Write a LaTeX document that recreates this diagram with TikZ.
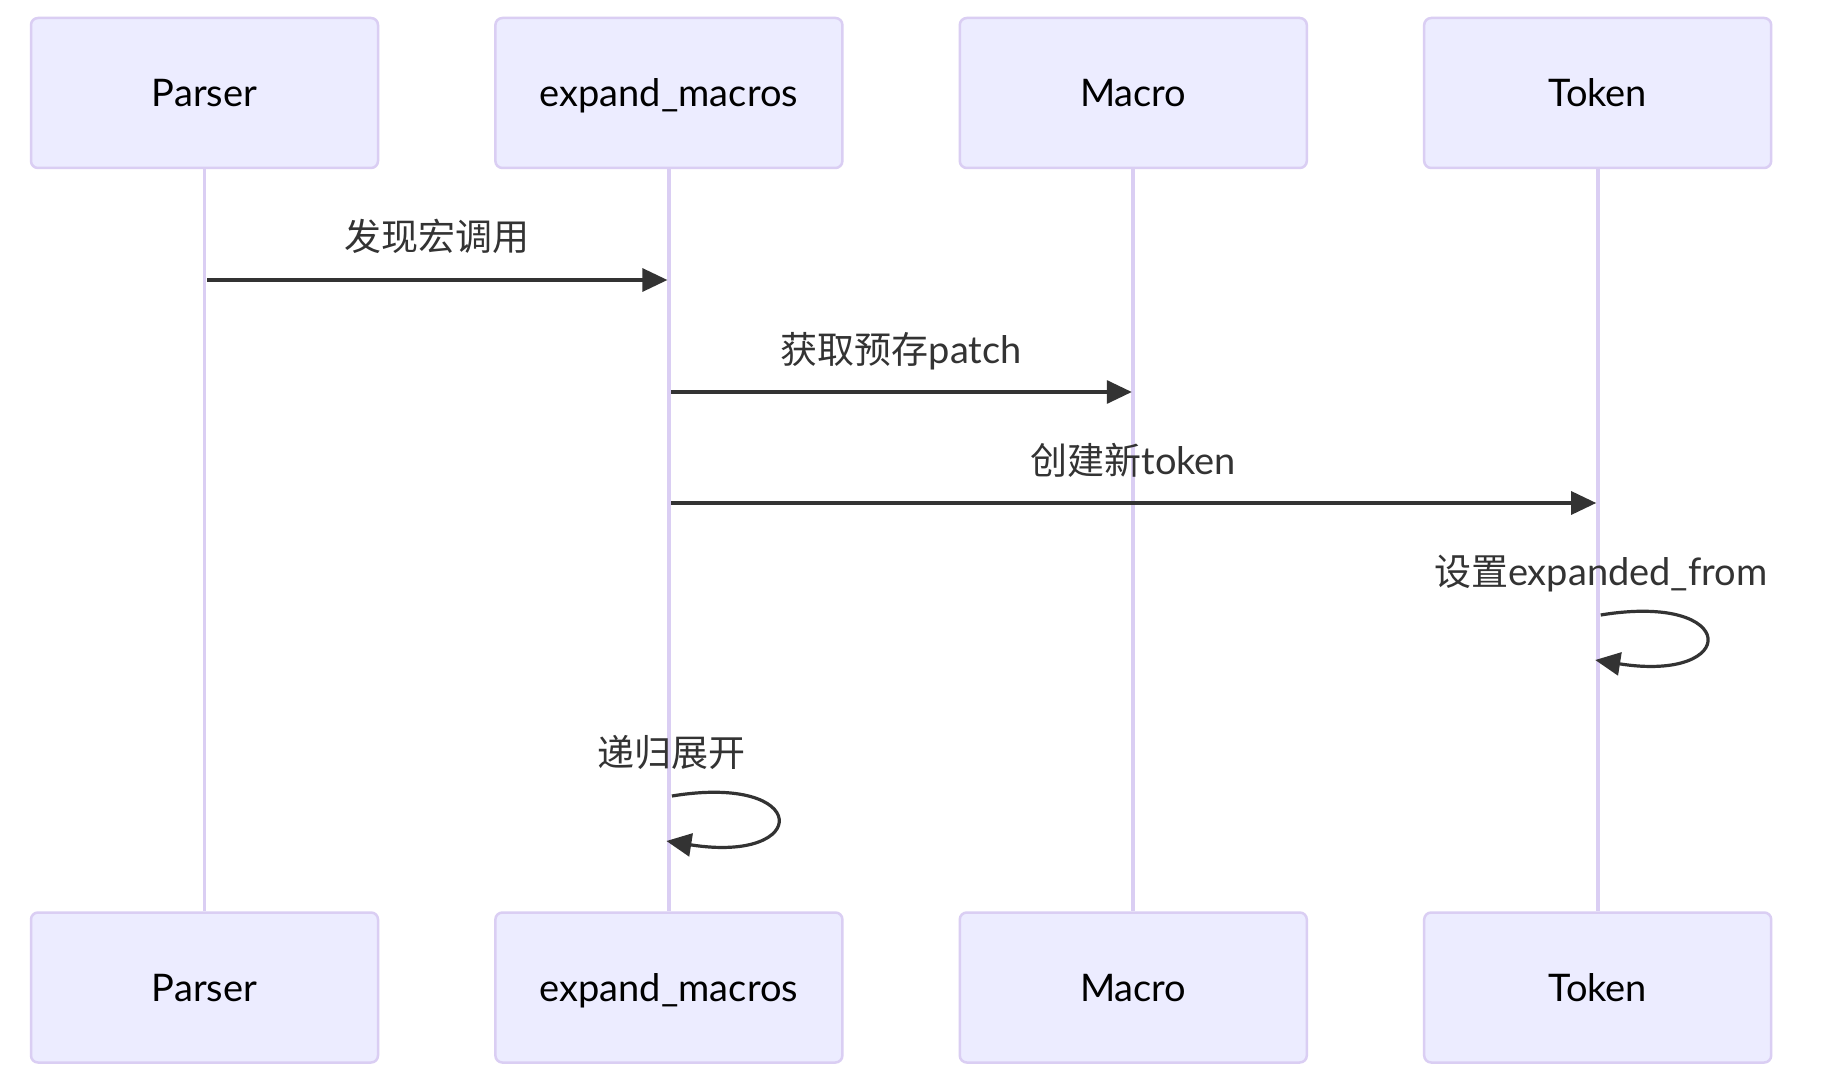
\documentclass[tikz,border=0pt]{standalone}
\usepackage{fontspec}
\setmainfont{Lato}
\newfontfamily\cjk{Noto Sans CJK SC}[Scale=0.974]
\usetikzlibrary{arrows.meta,calc}
\definecolor{actfill}{HTML}{ECECFF}
\definecolor{actline}{HTML}{DACEF3}
\definecolor{msgcol}{HTML}{333333}
\tikzset{
  actor/.style={draw=actline, fill=actfill, line width=2.5pt, rounded corners=7pt,
    minimum width=347pt, minimum height=150pt, inner sep=0pt,
    text height=27pt, text depth=0pt,
    font=\fontsize{38}{45}\selectfont, text=black},
  lifeline/.style={draw=actline, line width=3.8pt},
  msg/.style={draw=msgcol, line width=3.2pt, -{Triangle[length=25pt,width=23pt]}},
  msglabel/.style={anchor=base, inner sep=0pt, text=msgcol, font=\fontsize{38}{45}\selectfont}
}
\begin{document}
\begin{tikzpicture}[x=1pt,y=-1pt]
\useasboundingbox[fill=white] (0,0) rectangle (1836,1083);
\coordinate (xP) at (204.5,0);
\coordinate (xE) at (668.9,0);
\coordinate (xM) at (1133.3,0);
\coordinate (xT) at (1597.7,0);
\node[actor] (P)  at (xP |- 0,93) {Parser};
\node[actor] (E)  at (xE |- 0,93) {expand\_macros};
\node[actor] (M)  at (xM |- 0,93) {Macro};
\node[actor] (T)  at (xT |- 0,93) {Token};
\node[actor] (Pb) at (xP |- 0,987.5) {Parser};
\node[actor] (Eb) at (xE |- 0,987.5) {expand\_macros};
\node[actor] (Mb) at (xM |- 0,987.5) {Macro};
\node[actor] (Tb) at (xT |- 0,987.5) {Token};
\draw[lifeline] (P.south) -- (Pb.north);
\draw[lifeline] (E.south) -- (Eb.north);
\draw[lifeline] (M.south) -- (Mb.north);
\draw[lifeline] (T.south) -- (Tb.north);
% message 1
\coordinate (m1a) at ($(P.center |- 0,280)+(2.5,0)$);
\coordinate (m1b) at ($(E.center |- 0,280)+(-1.5,0)$);
\draw[msg] (m1a) -- (m1b);
\node[msglabel] (l1) at ($(P.center |- 0,251)!0.5!(E.center |- 0,251)$) {\cjk 发现宏调用};
% message 2
\coordinate (m2a) at ($(E.center |- 0,392)+(2.5,0)$);
\coordinate (m2b) at ($(M.center |- 0,392)+(-1.5,0)$);
\draw[msg] (m2a) -- (m2b);
\node[msglabel] (l2) at ($(E.center |- 0,363)!0.5!(M.center |- 0,363)$) {{\cjk 获取预存}patch};
% message 3
\coordinate (m3a) at ($(E.center |- 0,503)+(2.5,0)$);
\coordinate (m3b) at ($(T.center |- 0,503)+(-1.5,0)$);
\draw[msg] (m3a) -- (m3b);
\node[msglabel] (l3) at ($(E.center |- 0,474)!0.5!(T.center |- 0,474)$) {{\cjk 创建新}token};
% self message on Token
\coordinate (s1a) at ($(T.center |- 0,615)+(3,0)$);
\coordinate (s1b) at ($(T.center |- 0,660)+(-2.5,0)$);
\draw[msg] (s1a) .. controls ($(s1a)+(140,-23)$) and ($(s1a)+(140,68)$) .. (s1b);
\node[msglabel] (l4) at ($(T.center |- 0,585)+(3,0)$) {{\cjk 设置}expanded\_from};
% self message on expand_macros
\coordinate (s2a) at ($(E.center |- 0,796)+(3,0)$);
\coordinate (s2b) at ($(E.center |- 0,841)+(-2.5,0)$);
\draw[msg] (s2a) .. controls ($(s2a)+(140,-23)$) and ($(s2a)+(140,68)$) .. (s2b);
\node[msglabel] (l5) at ($(E.center |- 0,766)+(3,0)$) {\cjk 递归展开};
\end{tikzpicture}
\end{document}
